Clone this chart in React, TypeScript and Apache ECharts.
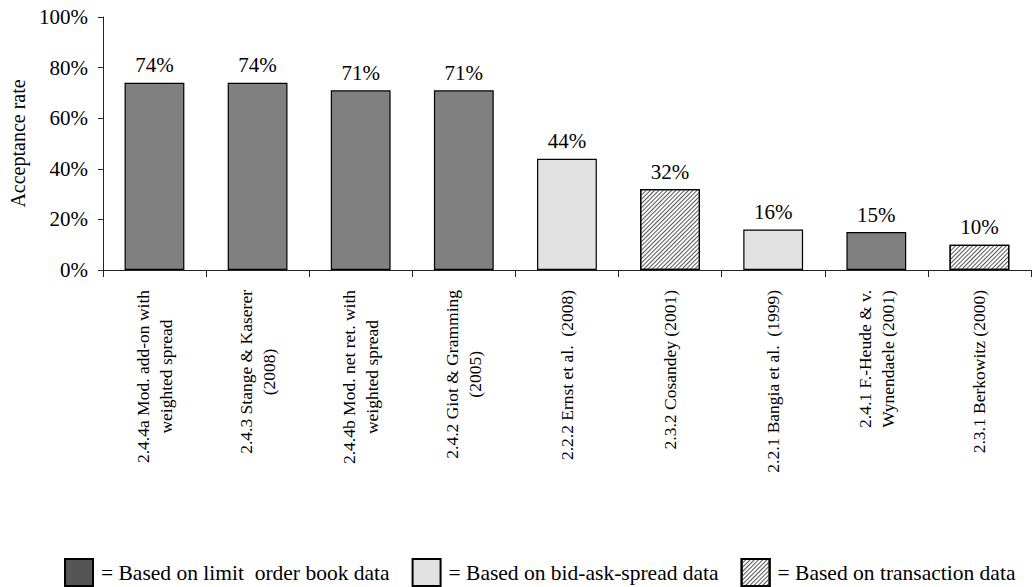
import React, { useEffect, useRef } from "react";
import * as echarts from "echarts";

const categories = [
  "2.4.4a Mod. add-on with\nweighted spread",
  "2.4.3 Stange & Kaserer\n(2008)",
  "2.4.4b Mod. net ret. with\nweighted spread",
  "2.4.2 Giot & Gramming\n(2005)",
  "2.2.2 Ernst et al.  (2008)",
  "2.3.2 Cosandey (2001)",
  "2.2.1 Bangia et al.  (1999)",
  "2.4.1 F.-Heude & v.\nWynendaele (2001)",
  "2.3.1 Berkowitz (2000)",
];
const values = [74, 74, 71, 71, 44, 32, 16, 15, 10];
// 0 = limit order book, 1 = bid-ask-spread, 2 = transaction
const dataType = [0, 0, 0, 0, 1, 2, 1, 0, 2];
const groupNames = [
  "= Based on limit  order book data",
  "= Based on bid-ask-spread data",
  "= Based on transaction data",
];
const yTicks = [0, 20, 40, 60, 80, 100];

const FONT = "'Liberation Serif', 'Times New Roman', serif";

export default function App() {
  const ref = useRef<HTMLDivElement>(null);
  useEffect(() => {
    if (!ref.current) return;
    const chart = echarts.init(ref.current, undefined, { renderer: "svg" });
    const colors = ["#808080", "#e2e2e2", "#ffffff"];
    const series = groupNames.map((name, g) => ({
      name,
      type: "bar",
      stack: "all",
      barWidth: "58%",
      data: values.map((v, i) => (dataType[i] === g ? v : "-")),
      itemStyle: {
        color: colors[g],
        borderColor: "#000",
        borderWidth: 1.2,
        decal:
          g === 2
            ? {
                symbol: "rect",
                symbolSize: 1,
                symbolKeepAspect: false,
                color: "#555",
                dashArrayX: [1, 0],
                dashArrayY: [1, 1.8],
                rotation: -Math.PI / 4,
              }
            : "none",
      },
      label: {
        show: true,
        position: "top",
        distance: 7,
        formatter: "{c}%",
        color: "#000",
        fontFamily: FONT,
        fontSize: 21,
      },
    }));
    chart.setOption({
      animation: false,
      grid: { left: 97, right: 3, top: 17, bottom: 317 },
      legend: {
        left: 59,
        top: 553,
        itemWidth: 28,
        itemHeight: 27,
        itemGap: 22,
        icon: "rect",
        data: [
          { name: groupNames[0], itemStyle: { color: "#555" } },
          { name: groupNames[1] },
          { name: groupNames[2] },
        ],
        textStyle: {
          color: "#000",
          fontFamily: FONT,
          fontSize: 21.5,
          padding: [0, 0, 0, 3],
        },
      },
      xAxis: {
        type: "category",
        data: categories,
        axisLine: { lineStyle: { color: "#222", width: 1 } },
        axisTick: { show: true, length: 7, lineStyle: { color: "#222" } },
        axisLabel: {
          interval: 0,
          rotate: 90,
          margin: 20,
          color: "#000",
          fontFamily: FONT,
          fontSize: 17.5,
          lineHeight: 23,
          formatter: (v: string) =>
            v
              .split("\n")
              .map((l) => `{c|${l}}`)
              .join("\n"),
          rich: {
            c: {
              align: "center",
              fontFamily: FONT,
              fontSize: 17.5,
              lineHeight: 23,
              color: "#000",
            },
          },
        },
      },
      yAxis: {
        type: "value",
        min: yTicks[0],
        max: yTicks[yTicks.length - 1],
        interval: 20,
        name: "Acceptance rate",
        nameLocation: "middle",
        nameGap: 70,
        nameTextStyle: { color: "#000", fontFamily: FONT, fontSize: 20 },
        axisLine: { show: true, lineStyle: { color: "#222", width: 1 } },
        axisTick: { show: true, length: 5, lineStyle: { color: "#222" } },
        splitLine: { show: false },
        axisLabel: {
          formatter: "{value}%",
          margin: 15,
          color: "#000",
          fontFamily: FONT,
          fontSize: 21,
        },
      },
      series,
    });
    return () => chart.dispose();
  }, []);
  return (
    <div
      ref={ref}
      style={{ position: "fixed", left: 0, top: 0, width: 1034, height: 587, background: "#fff" }}
    />
  );
}
